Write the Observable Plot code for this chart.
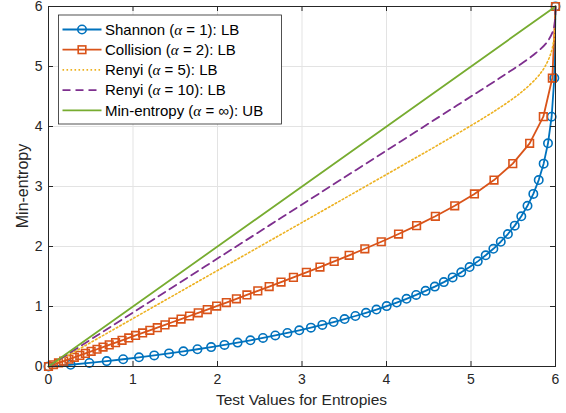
<!DOCTYPE html>
<html><head><meta charset="utf-8">
<script src="https://cdn.jsdelivr.net/npm/d3@7"></script>
<script src="https://cdn.jsdelivr.net/npm/@observablehq/plot@0.6"></script>
<style>
body{margin:0;background:#fff;}
#chart{position:relative;width:566px;height:413px;}
</style></head><body><div id="chart"></div>
<script>
// Min-entropy values (y) shared by the Shannon and Collision series
const minEntropy = [6.0000, 4.8074, 4.1635, 3.7199, 3.3811, 3.1069, 2.8766, 2.6781, 2.5036, 2.3479,
  2.2074, 2.0794, 1.9619, 1.8532, 1.7521, 1.6576, 1.5690, 1.4854, 1.4065, 1.3316,
  1.2605, 1.1926, 1.1279, 1.0659, 1.0065, 0.9494, 0.8945, 0.8416, 0.7905, 0.7413,
  0.6936, 0.6475, 0.6028, 0.5594, 0.5173, 0.4764, 0.4367, 0.3980, 0.3603, 0.3235,
  0.2877, 0.2528, 0.2186, 0.1853, 0.1527, 0.1209, 0.0897, 0.0592, 0.0293, 0];
const shannonX = [6.0000, 5.9861, 5.9543, 5.9112, 5.8597, 5.8015, 5.7375, 5.6686, 5.5953, 5.5179,
  5.4369, 5.3524, 5.2647, 5.1739, 5.0802, 4.9837, 4.8846, 4.7828, 4.6785, 4.5717,
  4.4625, 4.3509, 4.2369, 4.1206, 4.0020, 3.8810, 3.7577, 3.6320, 3.5040, 3.3736,
  3.2407, 3.1054, 2.9676, 2.8272, 2.6841, 2.5383, 2.3895, 2.2378, 2.0828, 1.9245,
  1.7625, 1.5966, 1.4264, 1.2514, 1.0708, 0.8838, 0.6887, 0.4833, 0.2620, 0];
const collisionX = [6.0000, 5.9626, 5.8560, 5.6941, 5.4943, 5.2723, 5.0405, 4.8074, 4.5781, 4.3560,
  4.1424, 3.9382, 3.7435, 3.5579, 3.3811, 3.2126, 3.0519, 2.8985, 2.7519, 2.6115,
  2.4770, 2.3479, 2.2239, 2.1047, 1.9898, 1.8790, 1.7721, 1.6688, 1.5690, 1.4722,
  1.3785, 1.2876, 1.1994, 1.1137, 1.0304, 0.9494, 0.8705, 0.7936, 0.7187, 0.6456,
  0.5743, 0.5047, 0.4367, 0.3702, 0.3052, 0.2415, 0.1793, 0.1183, 0.0585, 0];
// Renyi curves (smooth lines, no markers)
const renyiY = [6, 5.8, 5.6, 5.4, 5.2, 5.0, 4.9, 4.8074, 4.6, 4.4, 4.1635, 3.7199, 3.3811,
  3.1069, 2.8766, 2.6781, 2.5036, 2.3479, 2.0, 1.5, 1.0, 0.5, 0];
const renyi5X = [6, 5.9985, 5.9920, 5.9757, 5.9410, 5.8764, 5.8293, 5.7757, 5.6206, 5.4315, 5.1739,
  4.6438, 4.2247, 3.8831, 3.5955, 3.3475, 3.1294, 2.9349, 2.5, 1.875, 1.25, 0.625, 0];
const renyi10X = [6, 5.9962, 5.9727, 5.8966, 5.7461, 5.5474, 5.4404, 5.3394, 5.1106, 4.8888, 4.6261,
  4.1332, 3.7568, 3.4521, 3.1962, 2.9756, 2.7817, 2.6088, 2.2222, 1.6667, 1.1111, 0.5556, 0];
// Min-entropy upper bound (straight line)
const ubX = [0, 6];
const ubY = [0, 6];

const xTicks = [0, 1, 2, 3, 4, 5, 6];
const yTicks = [0, 1, 2, 3, 4, 5, 6];
const seriesLabels = [
  ["Shannon (", "α", " = 1): LB"],
  ["Collision (", "α", " = 2): LB"],
  ["Renyi (", "α", " = 5): LB"],
  ["Renyi (", "α", " = 10): LB"],
  ["Min-entropy (", "α", " = ∞): UB"]
];
const colors = ["#0072BD", "#D95319", "#EDB120", "#7E2F8E", "#77AC30"];
const dashes = [null, null, "1.6,2.4", "8,5", null];
const xLabel = "Test Values for Entropies";
const yLabel = "Min-entropy";

const shannon = minEntropy.map((y, i) => ({x: shannonX[i], y}));
const collision = minEntropy.map((y, i) => ({x: collisionX[i], y}));
const renyi5 = renyiY.map((y, i) => ({x: renyi5X[i], y}));
const renyi10 = renyiY.map((y, i) => ({x: renyi10X[i], y}));
const ub = ubX.map((x, i) => ({x, y: ubY[i]}));

const W = 566, H = 413, ML = 48, MR = 11, MT = 6, MB = 47;
const FW = W - ML - MR, FH = H - MT - MB;
const axisColor = "#262626";
const gridColor = "#e3e3e3";
const font = "'Liberation Sans', Arial, sans-serif";

const svg = Plot.plot({
  width: W, height: H,
  marginLeft: ML, marginRight: MR, marginTop: MT, marginBottom: MB,
  style: {fontFamily: font, fontSize: "14px", color: axisColor, background: "#fff", overflow: "visible"},
  x: {domain: [0, 6]},
  y: {domain: [0, 6]},
  marks: [
    Plot.gridX(xTicks, {stroke: gridColor, strokeOpacity: 1, strokeWidth: 1}),
    Plot.gridY(yTicks, {stroke: gridColor, strokeOpacity: 1, strokeWidth: 1}),
    Plot.line(shannon, {x: "x", y: "y", stroke: colors[0], strokeWidth: 1.8}),
    Plot.dot(shannon, {x: "x", y: "y", r: 4.2, stroke: colors[0], strokeWidth: 1.6, fill: "none"}),
    Plot.line(collision, {x: "x", y: "y", stroke: colors[1], strokeWidth: 1.8}),
    Plot.dot(collision, {x: "x", y: "y", symbol: "square", r: 4.3, stroke: colors[1], strokeWidth: 1.6, fill: "none"}),
    Plot.line(renyi5, {x: "x", y: "y", stroke: colors[2], strokeWidth: 1.6, strokeDasharray: dashes[2], curve: "catmull-rom"}),
    Plot.line(renyi10, {x: "x", y: "y", stroke: colors[3], strokeWidth: 1.8, strokeDasharray: dashes[3], curve: "catmull-rom"}),
    Plot.line(ub, {x: "x", y: "y", stroke: colors[4], strokeWidth: 1.8}),
    Plot.frame({stroke: axisColor, strokeWidth: 1}),
    Plot.ruleX(xTicks, {x: d => d, insetTop: FH - 5, stroke: axisColor}),
    Plot.ruleX(xTicks, {x: d => d, insetBottom: FH - 5, stroke: axisColor}),
    Plot.ruleY(yTicks, {y: d => d, insetRight: FW - 5, stroke: axisColor}),
    Plot.ruleY(yTicks, {y: d => d, insetLeft: FW - 5, stroke: axisColor}),
    Plot.axisX(xTicks, {tickSize: 0, tickPadding: 8, label: null, fontSize: 14, fill: axisColor, tickFormat: d => String(d)}),
    Plot.axisY(yTicks, {tickSize: 0, tickPadding: 6, label: null, fontSize: 14, fill: axisColor, tickFormat: d => String(d)})
  ]
});
document.getElementById("chart").appendChild(svg);
const root = d3.select(svg);

// Axis titles
root.append("text").attr("x", ML + FW / 2).attr("y", 405).attr("text-anchor", "middle")
  .attr("font-family", font).attr("font-size", 15.5).attr("fill", axisColor).text(xLabel);
root.append("text").attr("transform", `translate(28,${MT + FH / 2}) rotate(-90)`).attr("text-anchor", "middle")
  .attr("font-family", font).attr("font-size", 16).attr("fill", axisColor).text(yLabel);

// Legend box (inside the axes, top-left)
const lg = root.append("g").attr("class", "legend");
const lx = 58.5, ly = 15, lw = 223, lh = 109;
lg.append("rect").attr("x", lx).attr("y", ly).attr("width", lw).attr("height", lh)
  .attr("fill", "#fff").attr("stroke", axisColor).attr("stroke-width", 0.8);
seriesLabels.forEach((parts, i) => {
  const cy = 29.5 + i * 20.2;
  lg.append("line").attr("x1", 62.5).attr("x2", 101.5).attr("y1", cy).attr("y2", cy)
    .attr("stroke", colors[i]).attr("stroke-width", i === 2 ? 1.6 : 1.8)
    .attr("stroke-dasharray", dashes[i]);
  if (i === 0) lg.append("circle").attr("cx", 82).attr("cy", cy).attr("r", 4.2)
    .attr("fill", "none").attr("stroke", colors[0]).attr("stroke-width", 1.6);
  if (i === 1) lg.append("rect").attr("x", 82 - 3.8).attr("y", cy - 3.8).attr("width", 7.6).attr("height", 7.6)
    .attr("fill", "none").attr("stroke", colors[1]).attr("stroke-width", 1.6);
  const t = lg.append("text").attr("x", 105).attr("y", cy).attr("dy", "0.35em").attr("text-anchor", "start")
    .attr("font-size", 15).attr("fill", "#000").attr("font-family", font);
  t.append("tspan").text(parts[0]);
  t.append("tspan").attr("font-style", "italic").attr("font-family", "'Liberation Serif', serif").text(parts[1]);
  t.append("tspan").text(parts[2]);
});
</script>
</body></html>
